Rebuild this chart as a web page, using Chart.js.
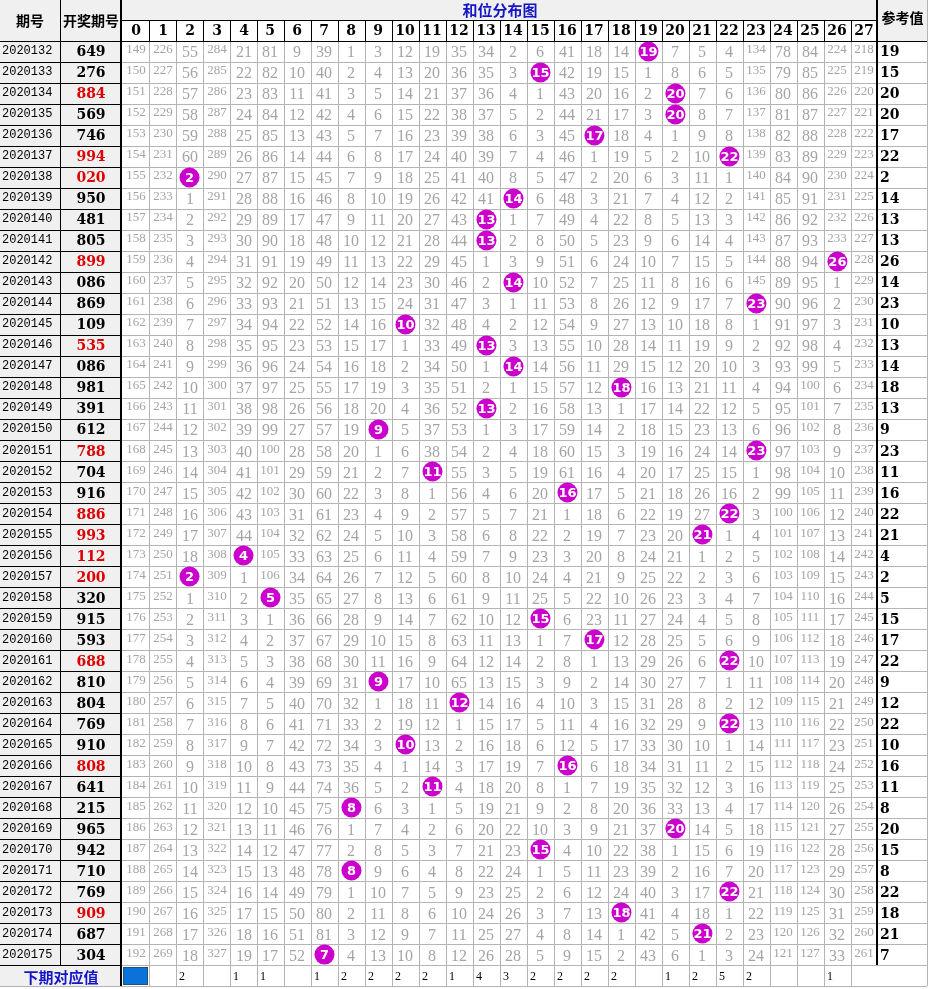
<!DOCTYPE html>
<html><head><meta charset="utf-8">
<script src="https://cdn.jsdelivr.net/npm/chart.js@4.4.1/dist/chart.umd.min.js"></script>
<style>html,body{margin:0;padding:0;background:#fff}canvas{display:block}</style>
</head><body>
<canvas id="c" width="930" height="989"></canvas>
<script>
// ---------------- data ----------------
const title = '和位分布图';
const headPeriod = '期号';
const headDraw = '开奖期号';
const headRef = '参考值';
const footLabel = '下期对应值';
const positions = ['0','1','2','3','4','5','6','7','8','9','10','11','12','13','14','15','16','17','18','19','20','21','22','23','24','25','26','27'];
const periods = ['2020132','2020133','2020134','2020135','2020136','2020137','2020138','2020139','2020140','2020141','2020142','2020143','2020144','2020145','2020146','2020147','2020148','2020149','2020150','2020151','2020152','2020153','2020154','2020155','2020156','2020157','2020158','2020159','2020160','2020161','2020162','2020163','2020164','2020165','2020166','2020167','2020168','2020169','2020170','2020171','2020172','2020173','2020174','2020175'];
const draws = ['649','276','884','569','746','994','020','950','481','805','899','086','869','109','535','086','981','391','612','788','704','916','886','993','112','200','320','915','593','688','810','804','769','910','808','641','215','965','942','710','769','909','687','304'];
const sums = [19,15,20,20,17,22,2,14,13,13,26,14,23,10,13,14,18,13,9,23,11,16,22,21,4,2,5,15,17,22,9,12,22,10,16,11,8,20,15,8,22,18,21,7];
// omission counts per row, 0 = hit (drawn as circle)
const misses = [
[149,226,55,284,21,81,9,39,1,3,12,19,35,34,2,6,41,18,14,0,7,5,4,134,78,84,224,218],
[150,227,56,285,22,82,10,40,2,4,13,20,36,35,3,0,42,19,15,1,8,6,5,135,79,85,225,219],
[151,228,57,286,23,83,11,41,3,5,14,21,37,36,4,1,43,20,16,2,0,7,6,136,80,86,226,220],
[152,229,58,287,24,84,12,42,4,6,15,22,38,37,5,2,44,21,17,3,0,8,7,137,81,87,227,221],
[153,230,59,288,25,85,13,43,5,7,16,23,39,38,6,3,45,0,18,4,1,9,8,138,82,88,228,222],
[154,231,60,289,26,86,14,44,6,8,17,24,40,39,7,4,46,1,19,5,2,10,0,139,83,89,229,223],
[155,232,0,290,27,87,15,45,7,9,18,25,41,40,8,5,47,2,20,6,3,11,1,140,84,90,230,224],
[156,233,1,291,28,88,16,46,8,10,19,26,42,41,0,6,48,3,21,7,4,12,2,141,85,91,231,225],
[157,234,2,292,29,89,17,47,9,11,20,27,43,0,1,7,49,4,22,8,5,13,3,142,86,92,232,226],
[158,235,3,293,30,90,18,48,10,12,21,28,44,0,2,8,50,5,23,9,6,14,4,143,87,93,233,227],
[159,236,4,294,31,91,19,49,11,13,22,29,45,1,3,9,51,6,24,10,7,15,5,144,88,94,0,228],
[160,237,5,295,32,92,20,50,12,14,23,30,46,2,0,10,52,7,25,11,8,16,6,145,89,95,1,229],
[161,238,6,296,33,93,21,51,13,15,24,31,47,3,1,11,53,8,26,12,9,17,7,0,90,96,2,230],
[162,239,7,297,34,94,22,52,14,16,0,32,48,4,2,12,54,9,27,13,10,18,8,1,91,97,3,231],
[163,240,8,298,35,95,23,53,15,17,1,33,49,0,3,13,55,10,28,14,11,19,9,2,92,98,4,232],
[164,241,9,299,36,96,24,54,16,18,2,34,50,1,0,14,56,11,29,15,12,20,10,3,93,99,5,233],
[165,242,10,300,37,97,25,55,17,19,3,35,51,2,1,15,57,12,0,16,13,21,11,4,94,100,6,234],
[166,243,11,301,38,98,26,56,18,20,4,36,52,0,2,16,58,13,1,17,14,22,12,5,95,101,7,235],
[167,244,12,302,39,99,27,57,19,0,5,37,53,1,3,17,59,14,2,18,15,23,13,6,96,102,8,236],
[168,245,13,303,40,100,28,58,20,1,6,38,54,2,4,18,60,15,3,19,16,24,14,0,97,103,9,237],
[169,246,14,304,41,101,29,59,21,2,7,0,55,3,5,19,61,16,4,20,17,25,15,1,98,104,10,238],
[170,247,15,305,42,102,30,60,22,3,8,1,56,4,6,20,0,17,5,21,18,26,16,2,99,105,11,239],
[171,248,16,306,43,103,31,61,23,4,9,2,57,5,7,21,1,18,6,22,19,27,0,3,100,106,12,240],
[172,249,17,307,44,104,32,62,24,5,10,3,58,6,8,22,2,19,7,23,20,0,1,4,101,107,13,241],
[173,250,18,308,0,105,33,63,25,6,11,4,59,7,9,23,3,20,8,24,21,1,2,5,102,108,14,242],
[174,251,0,309,1,106,34,64,26,7,12,5,60,8,10,24,4,21,9,25,22,2,3,6,103,109,15,243],
[175,252,1,310,2,0,35,65,27,8,13,6,61,9,11,25,5,22,10,26,23,3,4,7,104,110,16,244],
[176,253,2,311,3,1,36,66,28,9,14,7,62,10,12,0,6,23,11,27,24,4,5,8,105,111,17,245],
[177,254,3,312,4,2,37,67,29,10,15,8,63,11,13,1,7,0,12,28,25,5,6,9,106,112,18,246],
[178,255,4,313,5,3,38,68,30,11,16,9,64,12,14,2,8,1,13,29,26,6,0,10,107,113,19,247],
[179,256,5,314,6,4,39,69,31,0,17,10,65,13,15,3,9,2,14,30,27,7,1,11,108,114,20,248],
[180,257,6,315,7,5,40,70,32,1,18,11,0,14,16,4,10,3,15,31,28,8,2,12,109,115,21,249],
[181,258,7,316,8,6,41,71,33,2,19,12,1,15,17,5,11,4,16,32,29,9,0,13,110,116,22,250],
[182,259,8,317,9,7,42,72,34,3,0,13,2,16,18,6,12,5,17,33,30,10,1,14,111,117,23,251],
[183,260,9,318,10,8,43,73,35,4,1,14,3,17,19,7,0,6,18,34,31,11,2,15,112,118,24,252],
[184,261,10,319,11,9,44,74,36,5,2,0,4,18,20,8,1,7,19,35,32,12,3,16,113,119,25,253],
[185,262,11,320,12,10,45,75,0,6,3,1,5,19,21,9,2,8,20,36,33,13,4,17,114,120,26,254],
[186,263,12,321,13,11,46,76,1,7,4,2,6,20,22,10,3,9,21,37,0,14,5,18,115,121,27,255],
[187,264,13,322,14,12,47,77,2,8,5,3,7,21,23,0,4,10,22,38,1,15,6,19,116,122,28,256],
[188,265,14,323,15,13,48,78,0,9,6,4,8,22,24,1,5,11,23,39,2,16,7,20,117,123,29,257],
[189,266,15,324,16,14,49,79,1,10,7,5,9,23,25,2,6,12,24,40,3,17,0,21,118,124,30,258],
[190,267,16,325,17,15,50,80,2,11,8,6,10,24,26,3,7,13,0,41,4,18,1,22,119,125,31,259],
[191,268,17,326,18,16,51,81,3,12,9,7,11,25,27,4,8,14,1,42,5,0,2,23,120,126,32,260],
[192,269,18,327,19,17,52,0,4,13,10,8,12,26,28,5,9,15,2,43,6,1,3,24,121,127,33,261]
];
const nextValues = ['','','2','','1','1','','1','2','2','2','2','1','4','3','2','2','2','2','','1','2','5','2','','','1',''];
const nextMarkedCol = 0; // blue-filled cell in the bottom row

// ---------------- layout (column / row units) ----------------
const LAY = {
  xMin: -5.02, xMax: 29.43, drawLeft: -2.78, gridLeft: -0.5, refLeft: 27.5, refRight: 29.32,
  yMin: -2.45, yMax: 44.64, digitTop: -1.5, dataTop: -0.5
};
const C = {
  grid: '#b4b4b4', dark: '#000', headBg: '#f0f0f0', leftBg: '#f0f0f0',
  miss: '#a4a4a4', ball: '#cc00cc', red: '#dd0000', blue: '#1515c8', mark: '#0a72d8'
};
const nRows = periods.length;

const isPair = s => s[0] === s[1] || s[1] === s[2] || s[0] === s[2];

const tablePlugin = {
  id: 'table',
  beforeDatasetsDraw(chart) {
    const ctx = chart.ctx, xs = chart.scales.x, ys = chart.scales.y;
    const X = v => Math.round(xs.getPixelForValue(v));
    const Y = v => Math.round(ys.getPixelForValue(v));
    const W = X(LAY.refRight);
    ctx.save();
    // backgrounds
    ctx.fillStyle = C.headBg;
    ctx.fillRect(0, 0, W, Y(LAY.digitTop));
    ctx.fillRect(0, 0, X(LAY.gridLeft), Y(LAY.dataTop));
    ctx.fillRect(X(LAY.refLeft), 0, W - X(LAY.refLeft), Y(LAY.dataTop));
    ctx.fillStyle = C.leftBg;
    ctx.fillRect(0, Y(LAY.dataTop), X(LAY.gridLeft), Y(nRows + 0.5) - Y(LAY.dataTop));

    const hline = (x0, x1, y, col, w) => { ctx.strokeStyle = col; ctx.lineWidth = w; ctx.beginPath(); ctx.moveTo(x0, y + (w % 2 ? 0.5 : 0)); ctx.lineTo(x1, y + (w % 2 ? 0.5 : 0)); ctx.stroke(); };
    const vline = (x, y0, y1, col, w) => { ctx.strokeStyle = col; ctx.lineWidth = w; ctx.beginPath(); ctx.moveTo(x + (w % 2 ? 0.5 : 0), y0); ctx.lineTo(x + (w % 2 ? 0.5 : 0), y1); ctx.stroke(); };

    // grid in data area
    for (let i = 1; i < positions.length; i++) vline(X(i - 0.5), Y(LAY.dataTop), Y(nRows + 0.5), C.grid, 1);
    for (let r = 0; r <= nRows; r++) hline(X(LAY.gridLeft), W, Y(r + 0.5), C.grid, 1);
    vline(W, 0, Y(nRows + 0.5), C.grid, 1);
    // left block rows
    for (let r = -1; r < nRows; r++) hline(0, X(LAY.gridLeft), Y(r + 0.5), C.dark, 1);
    hline(0, X(LAY.gridLeft), Y(nRows + 0.5), C.grid, 1);
    // header lines
    hline(X(LAY.gridLeft), X(LAY.refLeft), Y(LAY.digitTop), C.dark, 1);
    hline(X(LAY.gridLeft), W, Y(LAY.dataTop), C.dark, 1);
    for (let i = 1; i < positions.length; i++) vline(X(i - 0.5), Y(LAY.digitTop), Y(LAY.dataTop), C.dark, 1);
    // heavy verticals
    vline(X(LAY.drawLeft), 0, Y(nRows - 0.5), C.dark, 1);
    vline(X(LAY.gridLeft) - 1, 0, Y(nRows + 0.5), C.dark, 2);
    vline(X(LAY.refLeft) - 1, 0, Y(nRows - 0.5), C.dark, 2);

    // header texts
    ctx.textBaseline = 'middle';
    ctx.textAlign = 'center';
    ctx.fillStyle = C.blue;
    ctx.font = 'bold 15px "Noto Sans CJK SC"';
    ctx.fillText(title, (X(LAY.gridLeft) + X(LAY.refLeft)) / 2, (Y(LAY.yMin) + Y(LAY.digitTop)) / 2);
    ctx.fillStyle = '#000';
    ctx.font = 'bold 14px "Noto Sans CJK SC"';
    const hy = (Y(LAY.yMin) + Y(LAY.dataTop)) / 2;
    ctx.fillText(headPeriod, (X(LAY.xMin) + X(LAY.drawLeft)) / 2, hy);
    ctx.fillText(headDraw, (X(LAY.drawLeft) + X(LAY.gridLeft)) / 2, hy);
    ctx.fillText(headRef, (X(LAY.refLeft) + W) / 2, hy - 3);
    ctx.font = 'bold 14px "DejaVu Serif"';
    const dy = (Y(LAY.digitTop) + Y(LAY.dataTop)) / 2 + 1;
    positions.forEach((p, i) => ctx.fillText(p, X(i), dy));

    // rows
    for (let r = 0; r < nRows; r++) {
      const cy = Y(r) + 1;
      ctx.textAlign = 'left';
      ctx.fillStyle = '#000';
      ctx.font = '12px "Liberation Mono"';
      ctx.fillText(periods[r], X(LAY.xMin) + 2, cy - 1);
      ctx.textAlign = 'center';
      ctx.font = 'bold 14px "DejaVu Serif"';
      ctx.fillStyle = isPair(draws[r]) ? C.red : '#000';
      ctx.fillText(draws[r], (X(LAY.drawLeft) + X(LAY.gridLeft)) / 2, cy);
      ctx.textAlign = 'left';
      ctx.fillStyle = '#000';
      ctx.fillText(String(sums[r]), X(LAY.refLeft) + 2, cy);
      ctx.textAlign = 'center';
      ctx.fillStyle = C.miss;
      misses[r].forEach((v, c) => {
        if (v === 0) return;
        if (v >= 100) { ctx.font = '13px "Liberation Serif"'; ctx.fillText(String(v), X(c), cy - 2); }
        else { ctx.font = '16px "Liberation Serif"'; ctx.fillText(String(v), X(c), cy + 1); }
      });
    }
    // footer row
    const fy = Y(nRows) + 1;
    ctx.textAlign = 'center';
    ctx.fillStyle = C.blue;
    ctx.font = 'bold 15px "Noto Sans CJK SC"';
    ctx.fillText(footLabel, X(LAY.xMin) + (X(LAY.gridLeft) - X(LAY.xMin)) / 2, fy);
    ctx.fillStyle = C.mark;
    const mx0 = X(nextMarkedCol - 0.5) + 1, my0 = Y(nRows - 0.5) + 2;
    ctx.fillRect(mx0, my0, X(nextMarkedCol + 0.5) - mx0 - 1, Y(nRows + 0.5) - my0 - 1);
    ctx.setLineDash([1, 1]); ctx.strokeStyle = '#333'; ctx.lineWidth = 1;
    ctx.strokeRect(mx0 + 0.5, my0 + 0.5, X(nextMarkedCol + 0.5) - mx0 - 2, Y(nRows + 0.5) - my0 - 2);
    ctx.setLineDash([]);
    ctx.textAlign = 'left';
    ctx.fillStyle = '#000';
    ctx.font = '12px "Liberation Serif"';
    nextValues.forEach((v, c) => { if (v) ctx.fillText(v, X(c - 0.5) + 3, fy); });
    ctx.restore();
  },
  afterDatasetsDraw(chart) {
    const ctx = chart.ctx, xs = chart.scales.x, ys = chart.scales.y;
    ctx.save();
    ctx.fillStyle = '#fff';
    ctx.font = 'bold 13px "DejaVu Sans"';
    ctx.textAlign = 'center';
    ctx.textBaseline = 'middle';
    sums.forEach((s, r) => ctx.fillText(String(s), xs.getPixelForValue(s), ys.getPixelForValue(r) + 1));
    ctx.restore();
  }
};

new Chart(document.getElementById('c'), {
  type: 'scatter',
  data: { datasets: [{
    data: sums.map((s, r) => ({ x: s, y: r })),
    pointRadius: 10, pointHoverRadius: 10,
    backgroundColor: C.ball, borderWidth: 0, clip: false
  }] },
  options: {
    responsive: false, animation: false, devicePixelRatio: 1, events: [],
    layout: { padding: 0, autoPadding: false },
    plugins: { legend: { display: false }, tooltip: { enabled: false } },
    scales: {
      x: { type: 'linear', min: LAY.xMin, max: LAY.xMax, display: false },
      y: { type: 'linear', min: LAY.yMin, max: LAY.yMax, reverse: true, display: false }
    }
  },
  plugins: [tablePlugin]
});
</script>
</body></html>
